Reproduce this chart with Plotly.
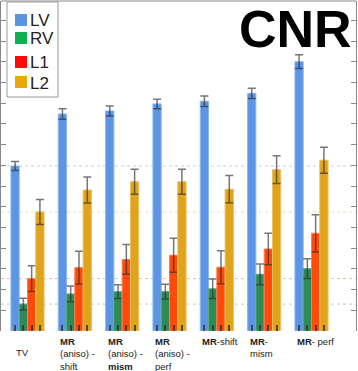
import plotly.graph_objects as go

categories = ["TV", "<b>MR</b><br>(aniso) -<br>shift", "<b>MR</b><br>(aniso) -<br><b>mism</b>",
              "<b>MR</b><br>(aniso) -<br>perf", "<b>MR</b>-shift", "<b>MR</b>-<br>mism", "<b>MR</b>- perf"]
series_names = ["LV", "RV", "L1", "L2"]
lv = [7.97, 10.48, 10.63, 10.97, 11.10, 11.48, 13.01]
rv = [1.30, 1.79, 1.90, 1.90, 2.04, 2.74, 3.01]
l1 = [2.53, 3.06, 3.46, 3.66, 3.08, 3.96, 4.72]
l2 = [5.75, 6.81, 7.21, 7.21, 6.85, 7.79, 8.25]
lv_err = [0.22, 0.25, 0.24, 0.23, 0.25, 0.25, 0.33]
rv_err = [0.28, 0.38, 0.33, 0.36, 0.47, 0.50, 0.48]
l1_err = [0.62, 0.79, 0.72, 0.82, 0.80, 0.76, 0.90]
l2_err = [0.60, 0.63, 0.60, 0.60, 0.66, 0.67, 0.63]

bar_colors = ["#5B95E3", "#2E8A57", "#FF4A0C", "#E0A31C"]
edge_colors = ["#8CB7EE", "#5DAA7E", "#FF7E52", "#ECC060"]
legend_colors = ["#5B95E0", "#10B04E", "#FF0A0A", "#E8A80C"]
ref_colors = ["#BCD4F2", "#A8DABB", "#F6B4A0", "#F0DDAA"]

values = [lv, rv, l1, l2]
errors = [lv_err, rv_err, l1_err, l2_err]
xs = list(range(len(categories)))
bw = 0.175

fig = go.Figure()
for k, name in enumerate(series_names):
    fig.add_trace(go.Bar(
        x=xs, y=values[k], name=name, showlegend=False,
        width=bw, offset=(k - 2) * bw,
        marker=dict(color=bar_colors[k], line=dict(color=edge_colors[k], width=1)),
        error_y=dict(type="data", array=errors[k], color="rgba(45,45,45,0.65)",
                     thickness=1.5, width=4),
    ))

# reference dotted lines at the TV level of each series
for k in range(4):
    fig.add_shape(type="line", xref="paper", x0=0, x1=1, yref="y",
                  y0=values[k][0], y1=values[k][0], layer="below",
                  line=dict(color=ref_colors[k], width=1, dash="dot"))

tick_pos = [i + (k - 1.5) * bw for i in xs for k in range(4)]

W, H = 358, 371
ML, MR, MT, MB = 1, 2, 1, 40
PW, PH = W - ML - MR, H - MT - MB


def px(x):
    return (x - ML) / PW


def py(y):
    return (MT + PH - y) / PH


fig.update_layout(
    width=W, height=H,
    margin=dict(l=ML, r=MR, t=MT, b=MB),
    paper_bgcolor="white", plot_bgcolor="white",
    barmode="overlay",
    font=dict(family="Liberation Sans", color="#222"),
    xaxis=dict(range=[-0.56, 6.94], tickvals=tick_pos, ticktext=[""] * len(tick_pos),
               ticks="inside", ticklen=6, tickwidth=1.5, tickcolor="rgba(50,50,50,0.8)",
               showline=False, showgrid=False, zeroline=False, showticklabels=False),
    yaxis=dict(range=[0, 15.94], dtick=1, tick0=0, ticks="inside", ticklen=5,
               tickcolor="#888", showline=True, linecolor="#888", linewidth=1,
               mirror="ticks", showgrid=False, zeroline=False, showticklabels=False),
    showlegend=False,
)

# top border
fig.add_shape(type="line", xref="paper", yref="paper", x0=0, x1=1, y0=1, y1=1,
              line=dict(color="#888", width=1))

# legend (drawn as layout decoration)
fig.add_shape(type="rect", xref="paper", yref="paper", x0=px(7), x1=px(58), y0=py(97), y1=py(2),
              line=dict(color="#9a9a9a", width=1), fillcolor="white", layer="above")
leg_y = [20, 38, 62, 82]
for k, name in enumerate(series_names):
    fig.add_shape(type="rect", xref="paper", yref="paper", x0=px(15), x1=px(27),
                  y0=py(leg_y[k] + 6), y1=py(leg_y[k] - 6), layer="above",
                  line=dict(width=0), fillcolor=legend_colors[k])
    fig.add_annotation(text=name, xref="paper", yref="paper", x=px(28), y=py(leg_y[k] + 1),
                       xanchor="left", yanchor="middle", showarrow=False,
                       font=dict(size=17, family="Liberation Sans", color="#222"))

fig.add_annotation(text="<b>CNR</b>", xref="paper", yref="paper", x=0.995, y=1.0,
                   xanchor="right", yanchor="top", showarrow=False, yshift=3,
                   font=dict(size=52, family="Liberation Sans", color="black"))

for i, lab in enumerate(categories):
    fig.add_annotation(text=lab, x=i - 0.35, xref="x", y=0, yref="paper",
                       xanchor="left", yanchor="top", align="left", showarrow=False,
                       xshift=3 if i == 0 else 0, yshift=-14 if i == 0 else -3,
                       font=dict(size=9.5, family="Liberation Sans", color="#222"))

fig.write_html("out.html", config={"displayModeBar": False},
               post_script="document.body.style.margin='0px';")
